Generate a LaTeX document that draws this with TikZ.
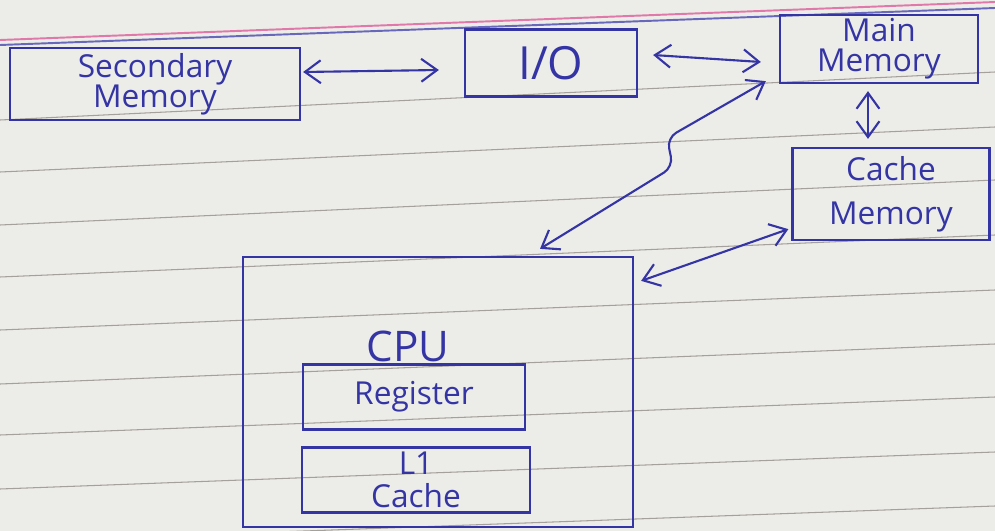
\documentclass[tikz,border=0pt]{standalone}
\usepackage{fontspec}
\setmainfont{Open Sans}
\usetikzlibrary{arrows.meta,calc}
\definecolor{ink}{RGB}{52,52,165}
\definecolor{paper}{RGB}{236,236,232}
\definecolor{rule}{RGB}{165,160,155}
\definecolor{margin}{RGB}{225,120,170}
\tikzset{
  box/.style={draw=ink,line width=1.3pt,text=ink,font=\fontsize{18}{21}\selectfont,align=center,inner sep=0pt},
  conn/.style={draw=ink,line width=1.2pt,{Straight Barb[length=9pt,width=13pt]}-{Straight Barb[length=9pt,width=13pt]}},
  ruleline/.style={draw=rule,line width=0.6pt}
}
\begin{document}
\begin{tikzpicture}[x=0.02cm,y=-0.02cm]
\useasboundingbox (0,0) rectangle (995,531);
\fill[paper] (0,0) rectangle (995,531);
\begin{scope}
\clip (0,0) rectangle (995,531);
\draw[margin,line width=1.1pt] (0,40) -- (995,2);
\draw[ink!75,line width=1.1pt] (0,45) -- (995,8);
\foreach \a/\b in {120/72,172/127,225/180,277/235,330/290,384/344,435/397,489/452,542/506}
  \draw[ruleline] (0,\a) -- (995,\b);
\end{scope}
% boxes
\node[box,minimum width=290*0.02cm,minimum height=72*0.02cm] (sec) at (155,84) {Secondary\\[-4pt]Memory};
\node[box,minimum width=172*0.02cm,minimum height=67*0.02cm,font=\fontsize{26}{30}\selectfont] (io) at (551,63) {I/O};
\node[box,minimum width=198*0.02cm,minimum height=68*0.02cm] (mm) at (879,49) {Main\\[-4pt]Memory};
\node[box,minimum width=197*0.02cm,minimum height=92*0.02cm] (cm) at (891,194) {Cache\\[4pt]Memory};
\node[box,minimum width=390*0.02cm,minimum height=270*0.02cm] (cpu) at (438,392) {};
\node[text=ink,font=\fontsize{24}{28}\selectfont,inner sep=0pt,anchor=south] (cpul) at (408,362) {CPU};
\node[box,minimum width=222*0.02cm,minimum height=65*0.02cm] (reg) at (414,397) {Register};
\node[box,minimum width=228*0.02cm,minimum height=65*0.02cm] (l1) at (416,480) {L1\\[-2pt]Cache};
% connectors
\draw[conn] ($(sec.east)+(2,-12)$) -- ($(io.west)+(-25,7)$);
\draw[conn] ($(io.east)+(15,-8)$) -- ($(mm.west)+(-18,13)$);
\draw[conn] ($(mm.south)+(-11,7)$) -- ($(cm.north)+(-23,-8)$);
\draw[conn,rounded corners=6pt] ($(mm.south west)+(-13,-3)$) -- (667,138) -- (673,167) -- ($(cpu.north)+(102,-7)$);
\draw[conn] ($(cpu.north east)+(7,25)$) -- ($(cm.south west)+(-3,-12)$);
\end{tikzpicture}
\end{document}
